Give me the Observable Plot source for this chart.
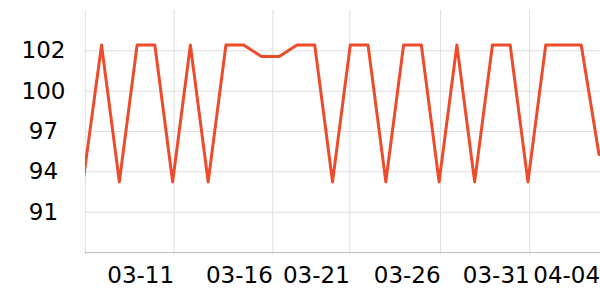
<!DOCTYPE html>
<html>
<head>
<meta charset="utf-8">
<script src="https://cdn.jsdelivr.net/npm/d3@7"></script>
<script src="https://cdn.jsdelivr.net/npm/@observablehq/plot@0.6"></script>
<style>
  html, body { margin: 0; padding: 0; background: #fff; }
</style>
</head>
<body>
<div id="chart"></div>
<script>
const dates = [
  "2024-03-06","2024-03-07","2024-03-08","2024-03-09","2024-03-10",
  "2024-03-11","2024-03-12","2024-03-13","2024-03-14","2024-03-15",
  "2024-03-16","2024-03-17","2024-03-18","2024-03-19","2024-03-20",
  "2024-03-21","2024-03-22","2024-03-23","2024-03-24","2024-03-25",
  "2024-03-26","2024-03-27","2024-03-28","2024-03-29","2024-03-30",
  "2024-03-31","2024-04-01","2024-04-02","2024-04-03","2024-04-04"
];
const values = [
  93.7, 102.8, 93.3, 102.8, 102.8,
  93.3, 102.8, 93.3, 102.8, 102.8,
  102.0, 102.0, 102.8, 102.8, 93.3,
  102.8, 102.8, 93.3, 102.8, 102.8,
  93.3, 102.8, 93.3, 102.8, 102.8,
  93.3, 102.8, 102.8, 102.8, 95.2
];
const yDomain = [88.4, 105.2];
const yTicks = [91.2, 94.0, 96.8, 99.6, 102.4];
const xGridDates = ["2024-03-06T02:00Z","2024-03-11T02:00Z","2024-03-16T15:20Z","2024-03-20T23:20Z","2024-03-26T02:00Z","2024-03-31T02:20Z"];
const xLabelDates = ["2024-03-11T02:00Z","2024-03-16T15:20Z","2024-03-20T23:20Z","2024-03-26T02:00Z","2024-03-31T02:20Z","2024-04-04T01:30Z"];
const xLabels = ["03-11","03-16","03-21","03-26","03-31","04-04"];

const data = dates.map((d, i) => ({date: new Date(d + "T00:00Z"), value: values[i]}));
const gridX = xGridDates.map(d => new Date(d));
const labelX = xLabelDates.map(d => new Date(d));
const labelOf = new Map(labelX.map((d, i) => [+d, xLabels[i]]));

const chart = Plot.plot({
  width: 600,
  height: 300,
  marginLeft: 85,
  marginRight: 0,
  marginTop: 10,
  marginBottom: 48,
  style: {fontFamily: "DejaVu Sans", fontSize: "23px", background: "#fff", color: "#000"},
  x: {type: "utc", domain: [data[0].date, data[data.length - 1].date], range: [83.3, 598.5]},
  y: {domain: yDomain, label: null},
  marks: [
    Plot.gridY(yTicks, {stroke: "#dedede", strokeOpacity: 1}),
    Plot.gridX(gridX, {stroke: "#dedede", strokeOpacity: 1}),
    Plot.axisX(gridX, {tickSize: 2, stroke: "#cccccc", tickFormat: () => "", label: null}),
    Plot.ruleY([yDomain[0]], {stroke: "#c0c0c0"}),
    Plot.axisY(yTicks, {tickSize: 0, tickPadding: 42, textAnchor: "middle", label: null, tickFormat: d => String(Math.round(d))}),
    Plot.axisX(labelX, {tickSize: 0, tickPadding: 14, textAnchor: "end", label: null, tickFormat: d => labelOf.get(+d)}),
    Plot.line(data, {x: "date", y: "value", stroke: "#ee4b2b", strokeWidth: 3, clip: true})
  ]
});
document.getElementById("chart").appendChild(chart);
</script>
</body>
</html>
